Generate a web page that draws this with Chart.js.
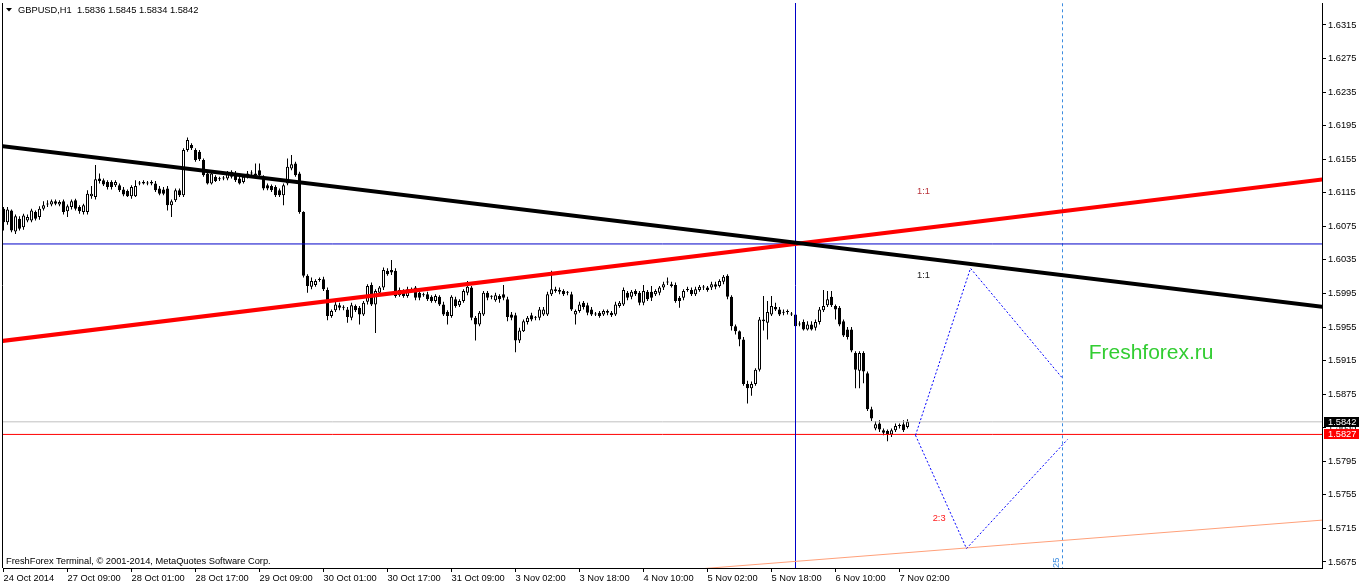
<!DOCTYPE html>
<html>
<head>
<meta charset="utf-8">
<title>GBPUSD,H1</title>
<script src="https://cdn.jsdelivr.net/npm/chart.js@4.4.0/dist/chart.umd.min.js"></script>
<style>
  html, body { margin: 0; padding: 0; background: #fff; }
  #wrap { width: 1362px; height: 586px; }
</style>
</head>
<body>
<div id="wrap"><canvas id="chart" width="1362" height="586"></canvas></div>
<script>
// GBPUSD H1 bars, 24 Oct 2014 17:00 .. 7 Nov 2014 04:00
var symbol = 'GBPUSD,H1';
var opens = [
  1.6096, 1.6080, 1.6094, 1.6069, 1.6084, 1.6074, 1.6082, 1.6082, 1.6092, 1.6086,
  1.6096, 1.6101, 1.6101, 1.6105, 1.6101, 1.6105, 1.6093, 1.6098, 1.6106, 1.6098,
  1.6092, 1.6092, 1.6111, 1.6110, 1.6132, 1.6130, 1.6128, 1.6128, 1.6124, 1.6124,
  1.6119, 1.6117, 1.6111, 1.6111, 1.6126, 1.6126, 1.6126, 1.6128, 1.6126, 1.6120,
  1.6119, 1.6120, 1.6100, 1.6106, 1.6118, 1.6112, 1.6166, 1.6172, 1.6166, 1.6164,
  1.6154, 1.6138, 1.6126, 1.6134, 1.6131, 1.6132, 1.6132, 1.6134, 1.6138, 1.6132,
  1.6128, 1.6134, 1.6138, 1.6136, 1.6142, 1.6134, 1.6124, 1.6123, 1.6122, 1.6118,
  1.6112, 1.6126, 1.6144, 1.6150, 1.6138, 1.6092, 1.6016, 1.6003, 1.6005, 1.6011,
  1.6012, 1.5999, 1.5968, 1.5975, 1.5981, 1.5978, 1.5976, 1.5966, 1.5980, 1.5978,
  1.5970, 1.5985, 1.6005, 1.5982, 1.5996, 1.6002, 1.6022, 1.6023, 1.6022, 1.5993,
  1.5998, 1.5992, 1.5999, 1.6002, 1.5996, 1.5993, 1.5994, 1.5991, 1.5986, 1.5991,
  1.5982, 1.5973, 1.5968, 1.5988, 1.5981, 1.5986, 1.5996, 1.6002, 1.5966, 1.5958,
  1.5970, 1.5996, 1.5991, 1.5987, 1.5992, 1.5994, 1.5988, 1.5970, 1.5969, 1.5939,
  1.5950, 1.5961, 1.5969, 1.5966, 1.5966, 1.5970, 1.5970, 1.5994, 1.6000, 1.5997,
  1.5998, 1.5996, 1.5994, 1.5970, 1.5974, 1.5984, 1.5981, 1.5976, 1.5970, 1.5972,
  1.5970, 1.5974, 1.5972, 1.5970, 1.5980, 1.5982, 1.5996, 1.5991, 1.5998, 1.5996,
  1.5984, 1.5997, 1.5997, 1.5994, 1.5996, 1.6002, 1.6008, 1.6004, 1.6005, 1.5990,
  1.5990, 1.5999, 1.5999, 1.5994, 1.5999, 1.6002, 1.6002, 1.6002, 1.6006, 1.6004,
  1.6009, 1.6016, 1.5991, 1.5956, 1.5950, 1.5940, 1.5887, 1.5882, 1.5887, 1.5904,
  1.5962, 1.5960, 1.5970, 1.5979, 1.5976, 1.5972, 1.5973, 1.5970, 1.5970, 1.5958,
  1.5961, 1.5952, 1.5958, 1.5954, 1.5961, 1.5975, 1.5981, 1.5991, 1.5980, 1.5978,
  1.5962, 1.5952, 1.5952, 1.5924, 1.5903, 1.5924, 1.5900, 1.5857, 1.5834, 1.5840,
  1.5832, 1.5831, 1.5827, 1.5832, 1.5837, 1.5839, 1.5836
];
var highs = [
  1.6098, 1.6098, 1.6095, 1.6089, 1.6087, 1.6090, 1.6089, 1.6096, 1.6094, 1.6099,
  1.6105, 1.6106, 1.6107, 1.6107, 1.6106, 1.6107, 1.6101, 1.6107, 1.6108, 1.6100,
  1.6102, 1.6118, 1.6123, 1.6148, 1.6138, 1.6132, 1.6130, 1.6130, 1.6130, 1.6126,
  1.6122, 1.6119, 1.6124, 1.6130, 1.6129, 1.6130, 1.6129, 1.6130, 1.6129, 1.6123,
  1.6122, 1.6123, 1.6107, 1.6120, 1.6120, 1.6168, 1.6181, 1.6174, 1.6168, 1.6166,
  1.6156, 1.6141, 1.6141, 1.6136, 1.6134, 1.6135, 1.6141, 1.6142, 1.6141, 1.6135,
  1.6136, 1.6141, 1.6142, 1.6150, 1.6150, 1.6136, 1.6126, 1.6125, 1.6124, 1.6120,
  1.6126, 1.6156, 1.6160, 1.6152, 1.6140, 1.6093, 1.6018, 1.6014, 1.6012, 1.6014,
  1.6015, 1.6002, 1.5976, 1.5985, 1.5984, 1.5981, 1.5979, 1.5984, 1.5982, 1.5980,
  1.5986, 1.6006, 1.6008, 1.6000, 1.6004, 1.6026, 1.6025, 1.6035, 1.6025, 1.6002,
  1.6000, 1.6003, 1.6002, 1.6004, 1.5998, 1.5996, 1.5997, 1.5993, 1.5994, 1.5993,
  1.5985, 1.5975, 1.5993, 1.5991, 1.5988, 1.6000, 1.6010, 1.6004, 1.5968, 1.5974,
  1.5998, 1.5998, 1.5993, 1.5996, 1.5994, 1.6005, 1.5991, 1.5973, 1.5972, 1.5954,
  1.5964, 1.5968, 1.5972, 1.5968, 1.5979, 1.5979, 1.5997, 1.6022, 1.6003, 1.6002,
  1.6000, 1.5998, 1.5997, 1.5976, 1.5985, 1.5986, 1.5984, 1.5979, 1.5973, 1.5974,
  1.5976, 1.5976, 1.5974, 1.5985, 1.5986, 1.6002, 1.5998, 1.5999, 1.6000, 1.5998,
  1.6005, 1.5999, 1.6004, 1.6000, 1.6004, 1.6009, 1.6014, 1.6009, 1.6008, 1.5992,
  1.6000, 1.6003, 1.6002, 1.6003, 1.6005, 1.6005, 1.6004, 1.6009, 1.6009, 1.6012,
  1.6017, 1.6018, 1.5993, 1.5958, 1.5951, 1.5943, 1.5891, 1.5890, 1.5906, 1.5967,
  1.5992, 1.5986, 1.5992, 1.5984, 1.5979, 1.5976, 1.5976, 1.5973, 1.5973, 1.5962,
  1.5964, 1.5962, 1.5962, 1.5964, 1.5979, 1.5999, 1.5998, 1.5998, 1.5982, 1.5980,
  1.5964, 1.5955, 1.5955, 1.5926, 1.5926, 1.5926, 1.5902, 1.5860, 1.5843, 1.5844,
  1.5834, 1.5833, 1.5834, 1.5840, 1.5840, 1.5844, 1.5845
];
var lows = [
  1.6070, 1.6077, 1.6068, 1.6066, 1.6070, 1.6071, 1.6080, 1.6080, 1.6082, 1.6083,
  1.6094, 1.6098, 1.6099, 1.6100, 1.6099, 1.6089, 1.6086, 1.6095, 1.6094, 1.6090,
  1.6089, 1.6089, 1.6108, 1.6107, 1.6126, 1.6123, 1.6119, 1.6119, 1.6122, 1.6116,
  1.6111, 1.6110, 1.6108, 1.6110, 1.6124, 1.6125, 1.6124, 1.6124, 1.6116, 1.6112,
  1.6112, 1.6094, 1.6086, 1.6104, 1.6110, 1.6110, 1.6164, 1.6166, 1.6152, 1.6153,
  1.6134, 1.6125, 1.6125, 1.6128, 1.6129, 1.6130, 1.6130, 1.6132, 1.6128, 1.6125,
  1.6126, 1.6132, 1.6136, 1.6135, 1.6134, 1.6118, 1.6118, 1.6116, 1.6110, 1.6110,
  1.6100, 1.6124, 1.6142, 1.6134, 1.6090, 1.6014, 1.5996, 1.6000, 1.6003, 1.6009,
  1.5998, 1.5963, 1.5966, 1.5973, 1.5975, 1.5975, 1.5960, 1.5963, 1.5973, 1.5958,
  1.5968, 1.5982, 1.5980, 1.5948, 1.5993, 1.5999, 1.6016, 1.6017, 1.5990, 1.5991,
  1.5990, 1.5990, 1.5997, 1.5987, 1.5987, 1.5991, 1.5986, 1.5984, 1.5984, 1.5980,
  1.5968, 1.5958, 1.5966, 1.5978, 1.5979, 1.5984, 1.5993, 1.5963, 1.5939, 1.5956,
  1.5968, 1.5987, 1.5988, 1.5985, 1.5984, 1.5987, 1.5962, 1.5963, 1.5925, 1.5936,
  1.5949, 1.5958, 1.5962, 1.5963, 1.5963, 1.5968, 1.5968, 1.5992, 1.5996, 1.5994,
  1.5992, 1.5993, 1.5974, 1.5958, 1.5972, 1.5976, 1.5969, 1.5968, 1.5968, 1.5966,
  1.5968, 1.5969, 1.5967, 1.5968, 1.5978, 1.5980, 1.5987, 1.5988, 1.5992, 1.5981,
  1.5981, 1.5986, 1.5986, 1.5992, 1.5993, 1.5999, 1.6005, 1.6002, 1.5984, 1.5978,
  1.5987, 1.5997, 1.5992, 1.5992, 1.5997, 1.5999, 1.5997, 1.5999, 1.6000, 1.6002,
  1.6006, 1.5988, 1.5951, 1.5946, 1.5932, 1.5885, 1.5864, 1.5873, 1.5885, 1.5902,
  1.5951, 1.5940, 1.5968, 1.5974, 1.5968, 1.5969, 1.5970, 1.5968, 1.5954, 1.5956,
  1.5951, 1.5951, 1.5951, 1.5951, 1.5958, 1.5973, 1.5979, 1.5979, 1.5964, 1.5956,
  1.5943, 1.5940, 1.5925, 1.5882, 1.5882, 1.5888, 1.5855, 1.5843, 1.5832, 1.5830,
  1.5826, 1.5819, 1.5824, 1.5830, 1.5834, 1.5830, 1.5834
];
var closes = [
  1.6080, 1.6095, 1.6070, 1.6087, 1.6072, 1.6088, 1.6086, 1.6094, 1.6084, 1.6096,
  1.6100, 1.6102, 1.6105, 1.6102, 1.6104, 1.6092, 1.6099, 1.6105, 1.6096, 1.6093,
  1.6100, 1.6114, 1.6114, 1.6131, 1.6129, 1.6125, 1.6122, 1.6122, 1.6128, 1.6118,
  1.6113, 1.6111, 1.6122, 1.6123, 1.6126, 1.6128, 1.6126, 1.6126, 1.6118, 1.6114,
  1.6114, 1.6100, 1.6105, 1.6118, 1.6112, 1.6166, 1.6178, 1.6168, 1.6154, 1.6155,
  1.6136, 1.6126, 1.6138, 1.6129, 1.6131, 1.6132, 1.6138, 1.6140, 1.6130, 1.6126,
  1.6134, 1.6138, 1.6138, 1.6138, 1.6136, 1.6120, 1.6120, 1.6118, 1.6112, 1.6112,
  1.6124, 1.6146, 1.6149, 1.6136, 1.6092, 1.6016, 1.6004, 1.6010, 1.6010, 1.6011,
  1.6000, 1.5968, 1.5974, 1.5982, 1.5978, 1.5978, 1.5967, 1.5981, 1.5975, 1.5970,
  1.5984, 1.6004, 1.5982, 1.5998, 1.6002, 1.6023, 1.6018, 1.6020, 1.5992, 1.5999,
  1.5992, 1.6000, 1.5999, 1.5990, 1.5990, 1.5993, 1.5988, 1.5986, 1.5992, 1.5982,
  1.5970, 1.5968, 1.5991, 1.5980, 1.5986, 1.5998, 1.6003, 1.5966, 1.5958, 1.5972,
  1.5996, 1.5990, 1.5991, 1.5993, 1.5988, 1.5990, 1.5967, 1.5966, 1.5939, 1.5951,
  1.5962, 1.5966, 1.5964, 1.5966, 1.5976, 1.5976, 1.5994, 1.6000, 1.5998, 1.5999,
  1.5994, 1.5996, 1.5976, 1.5974, 1.5982, 1.5979, 1.5972, 1.5970, 1.5970, 1.5968,
  1.5974, 1.5972, 1.5969, 1.5982, 1.5984, 1.5999, 1.5990, 1.5997, 1.5994, 1.5984,
  1.5998, 1.5988, 1.5990, 1.5998, 1.6002, 1.6006, 1.6008, 1.6006, 1.5986, 1.5986,
  1.5998, 1.5999, 1.5994, 1.6000, 1.6003, 1.6002, 1.5999, 1.6006, 1.6003, 1.6010,
  1.6015, 1.5991, 1.5956, 1.5950, 1.5940, 1.5887, 1.5882, 1.5887, 1.5904, 1.5964,
  1.5964, 1.5973, 1.5980, 1.5976, 1.5970, 1.5972, 1.5973, 1.5970, 1.5956, 1.5958,
  1.5952, 1.5958, 1.5952, 1.5961, 1.5976, 1.5980, 1.5988, 1.5981, 1.5976, 1.5958,
  1.5945, 1.5943, 1.5927, 1.5904, 1.5924, 1.5902, 1.5857, 1.5846, 1.5839, 1.5833,
  1.5829, 1.5827, 1.5832, 1.5837, 1.5837, 1.5832, 1.5842
];

// time axis: a label every 16 bars
var tickBars = [0, 16, 32, 48, 64, 80, 96, 112, 128, 144, 160, 176, 192, 208, 224];
var timeLabels = ['24 Oct 2014', '27 Oct 09:00', '28 Oct 01:00', '28 Oct 17:00', '29 Oct 09:00',
  '30 Oct 01:00', '30 Oct 17:00', '31 Oct 09:00', '3 Nov 02:00', '3 Nov 18:00',
  '4 Nov 10:00', '5 Nov 02:00', '5 Nov 18:00', '6 Nov 10:00', '7 Nov 02:00'];
var priceTicks = [1.5675, 1.5715, 1.5755, 1.5795, 1.5835, 1.5875, 1.5915, 1.5955, 1.5995,
  1.6035, 1.6075, 1.6115, 1.6155, 1.6195, 1.6235, 1.6275, 1.6315];

// drawn objects: [bar index, price]
var blackTrend = [[-1, 1.6171], [330, 1.5979]];
var redTrend = [[-1, 1.5938], [330, 1.6131]];
var salmonTrend = [[172, 1.5666], [330, 1.5725]];
var zigzagUp = [[228, 1.5826], [241.75, 1.6025], [264.75, 1.5894]];
var zigzagDown = [[228, 1.5826], [240.75, 1.5691], [266, 1.5821]];
var crossBar = 198;
var crossLevel = 1.6054;
var redLevel = 1.5827;
var futureBar = 264.75;

var FONT = '9.3px "Liberation Sans"';

function pts(list) { return list.map(function(p) { return { x: p[0], y: p[1] }; }); }
function hLine(v) { return [{ x: -5, y: v }, { x: 340, y: v }]; }
function vLine(b) { return [{ x: b, y: 1.50 }, { x: b, y: 1.70 }]; }
function lineSet(data, color, width, dash) {
  return {
    type: 'line', data: data, borderColor: color, borderWidth: width,
    borderDash: dash || [], pointRadius: 0, pointHoverRadius: 0,
    fill: false, tension: 0, order: 0
  };
}

var bodies = opens.map(function(o, i) { return { x: i, y: [o, closes[i]] }; });
var wicks = lows.map(function(l, i) { return { x: i, y: [l, highs[i]] }; });
var bodyFill = opens.map(function(o, i) { return closes[i] > o ? '#ffffff' : '#000000'; });

Chart.defaults.font.family = '"Liberation Sans", Arial, sans-serif';
Chart.defaults.font.size = 9.3;
Chart.defaults.color = '#000';

var overlay = {
  id: 'overlay',
  afterDraw: function(chart) {
    var ctx = chart.ctx, a = chart.chartArea;
    var xs = chart.scales.x, ys = chart.scales.y;
    var last = opens.length - 1;
    ctx.save();
    // left frame
    ctx.strokeStyle = '#000';
    ctx.lineWidth = 1;
    ctx.beginPath();
    ctx.moveTo(2.5, a.top);
    ctx.lineTo(2.5, a.bottom);
    ctx.stroke();

    ctx.font = FONT;
    ctx.textBaseline = 'middle';
    ctx.fillStyle = '#000';
    ctx.beginPath();
    ctx.moveTo(6, 8); ctx.lineTo(12, 8); ctx.lineTo(9, 11.5); ctx.closePath();
    ctx.fill();
    var head = symbol + '  ' + [opens[last], highs[last], lows[last], closes[last]]
      .map(function(v) { return v.toFixed(4); }).join(' ');
    ctx.fillText(head, 18, 10.5);
    ctx.fillText('FreshForex Terminal, \u00a9 2001-2014, MetaQuotes Software Corp.', 6, 561);

    // object labels
    ctx.textAlign = 'center';
    ctx.fillStyle = '#b8323a';
    ctx.fillText('1:1', xs.getPixelForValue(230), ys.getPixelForValue(1.6117));
    ctx.fillStyle = '#1a1a1a';
    ctx.fillText('1:1', xs.getPixelForValue(230), ys.getPixelForValue(1.6016));
    ctx.fillStyle = '#ff1a1a';
    ctx.fillText('2:3', xs.getPixelForValue(233.9), ys.getPixelForValue(1.5727));
    ctx.font = '21px "Liberation Sans"';
    ctx.fillStyle = '#32cd32';
    ctx.fillText('Freshforex.ru', xs.getPixelForValue(286.9), ys.getPixelForValue(1.5924));
    ctx.save();
    ctx.font = FONT;
    ctx.fillStyle = '#3c8ce0';
    ctx.translate(xs.getPixelForValue(263.3), ys.getPixelForValue(1.5674));
    ctx.rotate(-Math.PI / 2);
    ctx.fillText('25', 0, 0);
    ctx.restore();

    // price tags on the axis
    ctx.font = FONT;
    function tag(v, bg) {
      var py = Math.round(ys.getPixelForValue(v));
      ctx.fillStyle = bg;
      ctx.fillRect(a.right + 2, py - 5, 35, 10);
      ctx.fillStyle = '#fff';
      ctx.textAlign = 'left';
      ctx.fillText(v.toFixed(4), a.right + 6, py + 0.5);
    }
    tag(closes[last], '#000');
    tag(redLevel, '#ff0000');
    ctx.restore();
  }
};

var ctx = document.getElementById('chart').getContext('2d');
var chart = new Chart(ctx, {
  type: 'bar',
  data: {
    datasets: [
      lineSet(pts(zigzagUp), '#0000ff', 1, [2, 2]),
      lineSet(pts(zigzagDown), '#0000ff', 1, [2, 2]),
      lineSet(pts(blackTrend), '#000000', 4),
      lineSet(pts(redTrend), '#ff0000', 4),
      lineSet(pts(salmonTrend), '#ffa07a', 1),
      lineSet(hLine(crossLevel), '#0000c8', 1),
      lineSet(vLine(crossBar), '#0000c8', 1),
      lineSet(hLine(closes[closes.length - 1]), '#c0c0c0', 1),
      lineSet(hLine(redLevel), '#ff0000', 1),
      lineSet(vLine(futureBar), '#3c8ce0', 1, [3, 3]),
      {
        label: 'body', data: bodies, backgroundColor: bodyFill, borderColor: '#000',
        borderWidth: 1, borderSkipped: false, barThickness: 3, minBarLength: 1,
        grouped: false, inflateAmount: 0, order: 1
      },
      {
        label: 'wick', data: wicks, backgroundColor: '#000', borderWidth: 0,
        barThickness: 1, grouped: false, inflateAmount: 0, order: 2
      }
    ]
  },
  options: {
    responsive: false,
    animation: false,
    events: [],
    layout: { padding: { left: 3, top: 3, right: 0, bottom: 0 } },
    plugins: { legend: { display: false }, tooltip: { enabled: false } },
    scales: {
      x: {
        type: 'linear', min: -0.125, max: 329.625, offset: false,
        afterBuildTicks: function(s) { s.ticks = tickBars.map(function(v) { return { value: v }; }); },
        afterFit: function(s) { s.height = 18; s.paddingLeft = 0; s.paddingRight = 0; },
        grid: { display: true, offset: false, drawOnChartArea: false, drawTicks: true, tickLength: 4, color: '#000' },
        border: { display: true, color: '#000' },
        ticks: {
          autoSkip: false, maxRotation: 0, minRotation: 0, align: 'start', padding: 1,
          callback: function(v, i) { return timeLabels[i]; }
        }
      },
      y: {
        type: 'linear', position: 'right', min: 1.56678, max: 1.63412,
        afterBuildTicks: function(s) { s.ticks = priceTicks.map(function(v) { return { value: v }; }); },
        afterFit: function(s) { s.width = 40; s.paddingTop = 0; s.paddingBottom = 0; },
        grid: { display: true, drawOnChartArea: false, drawTicks: true, tickLength: 4, color: '#000' },
        border: { display: true, color: '#000' },
        ticks: { padding: 2, callback: function(v) { return v.toFixed(4); } }
      }
    }
  },
  plugins: [overlay]
});
</script>
</body>
</html>
